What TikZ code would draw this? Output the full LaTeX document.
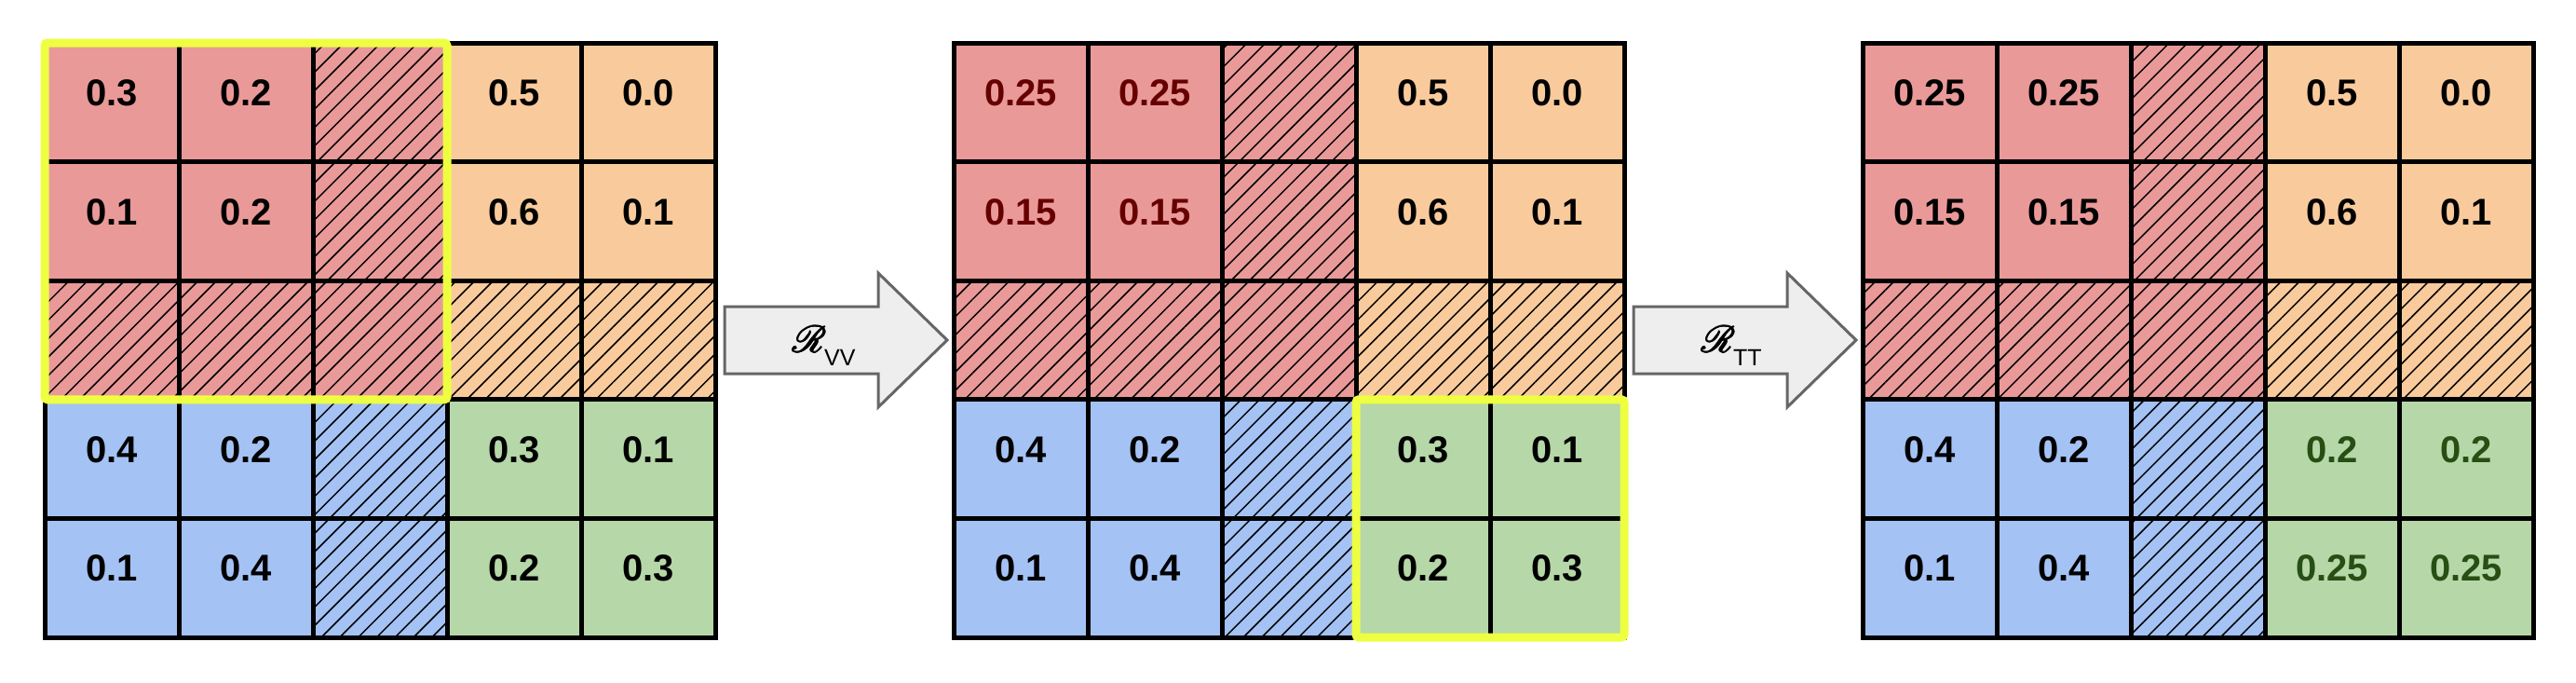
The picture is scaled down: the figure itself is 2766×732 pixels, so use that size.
\documentclass[tikz,border=0pt]{standalone}
\usepackage{fontspec}
\setmainfont{Liberation Sans}
\usetikzlibrary{patterns.meta}
\font\myrsfs=rsfs10 at 40pt
\newcommand\heavyR{\rlap{\myrsfs R}\rlap{\kern1pt\myrsfs R}\rlap{\kern0.5pt\raisebox{0.7pt}{\myrsfs R}}\rlap{\kern0.5pt\raisebox{-0.5pt}{\myrsfs R}}\kern1pt{\myrsfs R}}
\definecolor{cred}{HTML}{EA9999}
\definecolor{corange}{HTML}{F9CB9C}
\definecolor{cblue}{HTML}{A4C2F4}
\definecolor{cgreen}{HTML}{B6D7A8}
\definecolor{dred}{HTML}{660000}
\definecolor{dgreen}{HTML}{274E13}
\definecolor{hl}{HTML}{EEFF41}
\definecolor{arrfill}{HTML}{EEEEEE}
\definecolor{arrdraw}{HTML}{666666}
\tikzset{
  cell/.style={draw=black, line width=5pt, minimum width=144pt, minimum height=127.6pt,
    inner sep=0pt, outer sep=0pt, anchor=center},
  hatch/.style={postaction={pattern={Lines[angle=45,distance=14pt,line width=1.5pt]}, pattern color=black}},
  num/.style={font=\fontsize{40}{48}\selectfont\bfseries, inner sep=0pt},
  selbox/.style={draw=hl, line width=9pt, rounded corners=3pt},
  bigarrow/.style={fill=arrfill, draw=arrdraw, line width=3pt, line join=miter},
  arrlabel/.style={inner sep=0pt, anchor=base west}
}
\begin{document}
\begin{tikzpicture}[x=1pt,y=-1pt]
\fill[white] (0,0) rectangle (2766,732);
\useasboundingbox (0,0) rectangle (2766,732);
% cells
\foreach \g/\L in {1/48,2/1024,3/2000}{
  \foreach \r in {1,...,5}{
    \foreach \c in {1,...,5}{
      \pgfmathsetmacro\cx{\L+144*(\c-0.5)}
      \pgfmathsetmacro\cy{46+127.6*(\r-0.5)}
      \ifnum\r<4 \ifnum\c<4 \def\cc{cred}\else\def\cc{corange}\fi
      \else \ifnum\c<4 \def\cc{cblue}\else\def\cc{cgreen}\fi\fi
      \def\h{0}\ifnum\r=3 \def\h{1}\fi\ifnum\c=3 \def\h{1}\fi
      \ifnum\h=1
        \node[cell,fill=\cc,hatch] (g\g-\r-\c) at (\cx,\cy) {};
      \else
        \node[cell,fill=\cc] (g\g-\r-\c) at (\cx,\cy) {};
      \fi
    }
  }
}
% numbers
\foreach \g/\r/\c/\t/\tc in {
  1/1/1/0.3/black, 1/1/2/0.2/black, 1/1/4/0.5/black, 1/1/5/0.0/black,
  1/2/1/0.1/black, 1/2/2/0.2/black, 1/2/4/0.6/black, 1/2/5/0.1/black,
  1/4/1/0.4/black, 1/4/2/0.2/black, 1/4/4/0.3/black, 1/4/5/0.1/black,
  1/5/1/0.1/black, 1/5/2/0.4/black, 1/5/4/0.2/black, 1/5/5/0.3/black,
  2/1/1/0.25/dred, 2/1/2/0.25/dred, 2/1/4/0.5/black, 2/1/5/0.0/black,
  2/2/1/0.15/dred, 2/2/2/0.15/dred, 2/2/4/0.6/black, 2/2/5/0.1/black,
  2/4/1/0.4/black, 2/4/2/0.2/black, 2/4/4/0.3/black, 2/4/5/0.1/black,
  2/5/1/0.1/black, 2/5/2/0.4/black, 2/5/4/0.2/black, 2/5/5/0.3/black,
  3/1/1/0.25/black, 3/1/2/0.25/black, 3/1/4/0.5/black, 3/1/5/0.0/black,
  3/2/1/0.15/black, 3/2/2/0.15/black, 3/2/4/0.6/black, 3/2/5/0.1/black,
  3/4/1/0.4/black, 3/4/2/0.2/black, 3/4/4/0.2/dgreen, 3/4/5/0.2/dgreen,
  3/5/1/0.1/black, 3/5/2/0.4/black, 3/5/4/0.25/dgreen, 3/5/5/0.25/dgreen}{
  \node[num,text=\tc] (t\g-\r-\c) at ([yshift=10pt]g\g-\r-\c.center) {\t};
}
% highlight boxes
\draw[selbox] (g1-1-1.north west) rectangle (g1-3-3.south east);
\draw[selbox] (g2-4-4.north west) rectangle (g2-5-5.south east);
% arrows
\coordinate (a1) at ([xshift=10pt]g1-3-5.east);
\coordinate (a2) at ([xshift=10pt]g2-3-5.east);
\foreach \a in {a1,a2}{
  \draw[bigarrow] (\a) ++(0,-36) -- ++(165,0) -- ++(0,-36) -- ++(74,72)
    -- ++(-74,72) -- ++(0,-36) -- ++(-165,0) -- cycle;
}
\node[arrlabel] (l1) at ([xshift=72pt,yshift=-13pt]a1)
  {\heavyR\raisebox{-14pt}{\fontsize{25}{25}\selectfont VV}};
\node[arrlabel] (l2) at ([xshift=72pt,yshift=-13pt]a2)
  {\heavyR\raisebox{-14pt}{\fontsize{25}{25}\selectfont TT}};
\end{tikzpicture}
\end{document}
